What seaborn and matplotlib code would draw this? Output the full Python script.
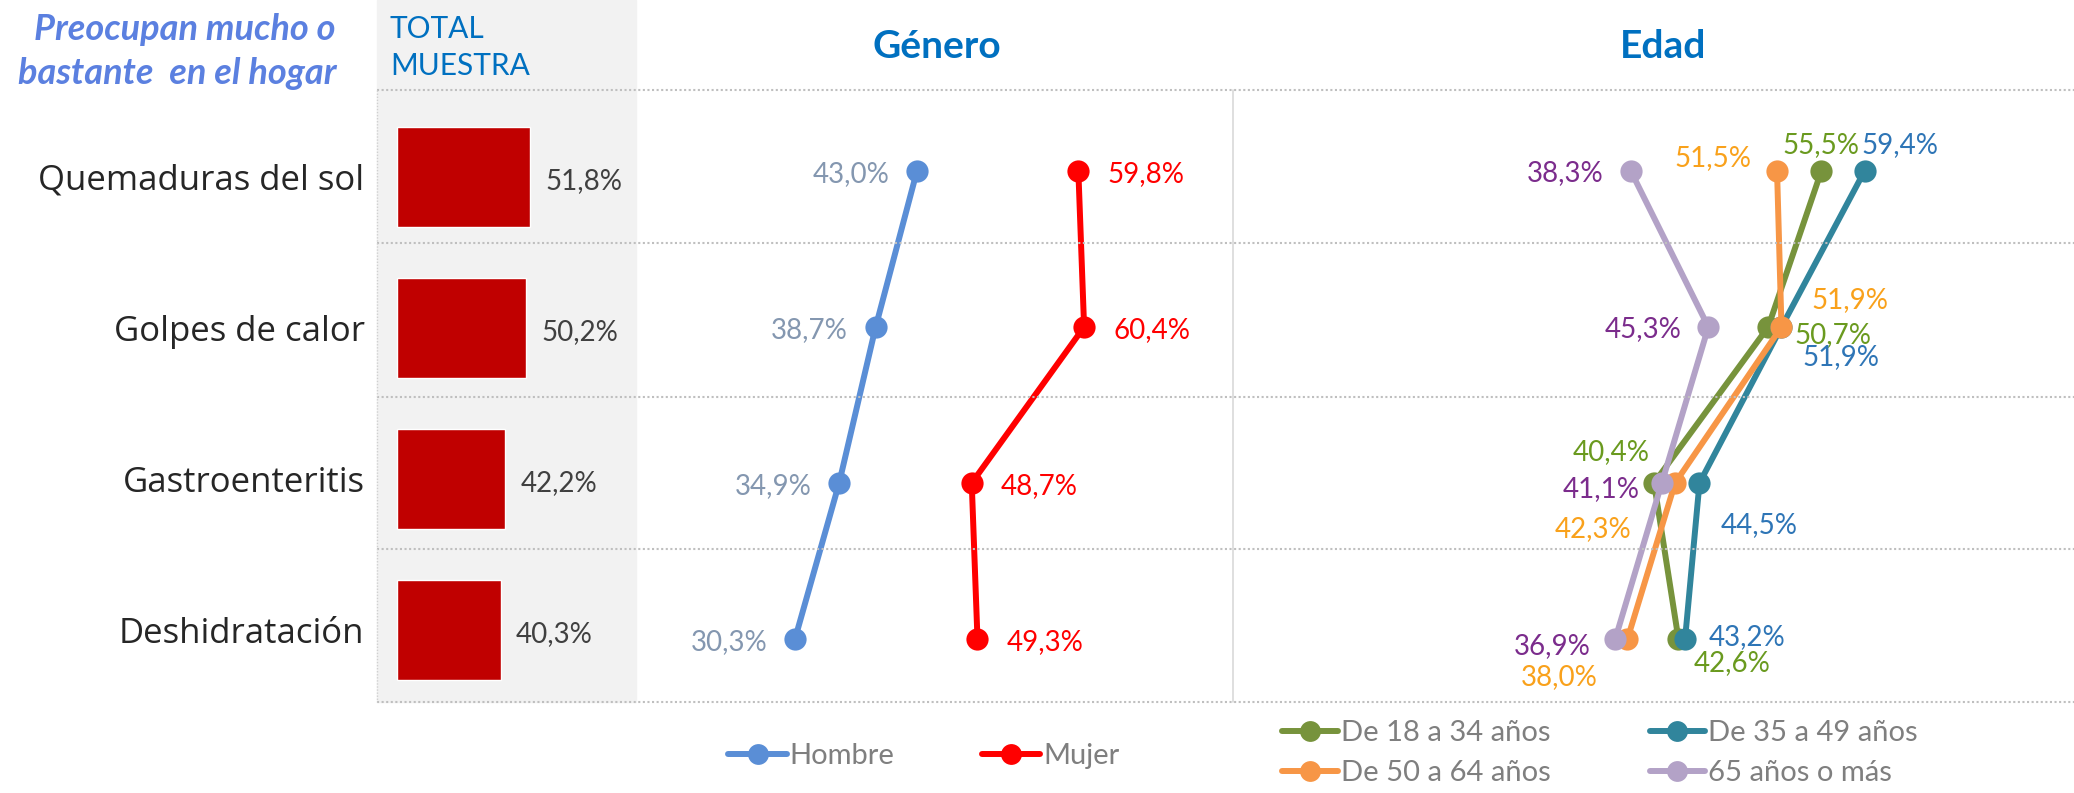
import matplotlib.pyplot as plt
from matplotlib.lines import Line2D
from matplotlib.patches import Rectangle
import seaborn as sns

# Datos (porcentajes que se preocupan mucho o bastante)
categorias = ["Quemaduras del sol", "Golpes de calor", "Gastroenteritis", "Deshidratación"]
total_muestra = [51.8, 50.2, 42.2, 40.3]
hombre = [43.0, 38.7, 34.9, 30.3]
mujer = [59.8, 60.4, 48.7, 49.3]
edad_18_34 = [55.5, 50.7, 40.4, 42.6]
edad_35_49 = [59.4, 51.9, 44.5, 43.2]
edad_50_64 = [51.5, 51.9, 42.3, 38.0]
edad_65_mas = [38.3, 45.3, 41.1, 36.9]

genero_series = ["Hombre", "Mujer"]
edad_series = ["De 18 a 34 años", "De 35 a 49 años", "De 50 a 64 años", "65 años o más"]

sns.set_style("white")
plt.rcParams["font.family"] = ["Lato", "DejaVu Sans"]

W, H = 2074, 793
fig = plt.figure(figsize=(W / 100, H / 100), dpi=100)


def rect(x0, y0, x1, y1):
    return [x0 / W, 1 - y1 / H, (x1 - x0) / W, (y1 - y0) / H]


def fmt(v):
    return f"{v:.1f}%".replace(".", ",")


# fondo gris de la columna TOTAL MUESTRA
fig.patches.append(Rectangle((377 / W, 1 - 702 / H), (636 - 377) / W, 702 / H,
                             transform=fig.transFigure, color="#f2f2f2", zorder=-5))

# ---- barras total muestra
ax_bar = fig.add_axes(rect(377, 90, 636, 702))
ax_bar.set_facecolor("none")
sns.barplot(x=total_muestra, y=categorias, ax=ax_bar, color="#c00000",
            orient="h", width=0.66, saturation=1)
ax_bar.set_xlim(-7.8, 93)
ax_bar.set_ylim(3.477, -0.576)
for i, v in enumerate(total_muestra):
    ax_bar.annotate(fmt(v), (v, i), xytext=(11, -3), textcoords="offset points",
                    ha="left", va="center", fontsize=20, color="#404040")
ax_bar.set_xticks([])
ax_bar.tick_params(axis="y", length=0, pad=9, labelsize=25)
for t in ax_bar.get_yticklabels():
    t.set_fontfamily(["Open Sans", "DejaVu Sans"])
ax_bar.set_xlabel("")
ax_bar.set_ylabel("")
sns.despine(ax=ax_bar, left=True, bottom=True)

rows = list(range(len(categorias)))
ylim_lines = (3.404, -0.519)

# ---- Género
ax_gen = fig.add_axes(rect(636, 90, 1233, 702))
ax_gen.set_facecolor("none")
gen_colors = {"Hombre": "#5a8ed6", "Mujer": "#ff0000"}
gen_label_colors = {"Hombre": "#8497b0", "Mujer": "#ff0000"}
for name, vals in zip(genero_series, [hombre, mujer]):
    sns.lineplot(x=vals, y=rows, ax=ax_gen, sort=False, estimator=None,
                 color=gen_colors[name], lw=4.3, marker="o", markersize=16,
                 markeredgewidth=0)
    for i, v in enumerate(vals):
        if name == "Hombre":
            off, ha = (-20, -2), "right"
        else:
            off, ha = (21, -2), "left"
        ax_gen.annotate(fmt(v), (v, i), xytext=off, textcoords="offset points",
                        ha=ha, va="center", fontsize=20, color=gen_label_colors[name])
ax_gen.set_xlim(13.75, 75.9)
ax_gen.set_ylim(*ylim_lines)
ax_gen.axis("off")

# ---- Edad
ax_edad = fig.add_axes(rect(1233, 90, 2074, 702))
ax_edad.set_facecolor("none")
edad_colors = ["#77933c", "#31859c", "#f79646", "#b3a2c7"]
edad_label_colors = ["#6a9a1f", "#2e75b6", "#f9a11b", "#7b2c8c"]
# desplazamientos de etiqueta (px: dx, dy hacia abajo, alineación)
edad_offsets = [
    [(0, -28, "center"), (26, 6, "left"), (-43, -33, "center"), (15, 22, "left")],
    [(-3, -28, "left"), (21, 28, "left"), (21, 40, "left"), (24, -4, "left")],
    [(-26, -15, "right"), (30, -29, "left"), (-44, 44, "right"), (-30, 36, "right")],
    [(-27, 0, "right"), (-27, 0, "right"), (-22, 4, "right"), (-25, 5, "right")],
]
edad_vals = [edad_18_34, edad_35_49, edad_50_64, edad_65_mas]
for k, vals in enumerate(edad_vals):
    sns.lineplot(x=vals, y=rows, ax=ax_edad, sort=False, estimator=None,
                 color=edad_colors[k], lw=4.3, marker="o", markersize=16,
                 markeredgewidth=0)
for k, vals in enumerate(edad_vals):
    for i, v in enumerate(vals):
        dx, dy, ha = edad_offsets[k][i]
        ax_edad.annotate(fmt(v), (v, i), xytext=(dx * 0.72, -dy * 0.72 - 1.5),
                         textcoords="offset points", ha=ha, va="center",
                         fontsize=20, color=edad_label_colors[k])
ax_edad.set_xlim(2.4, 78.3)
ax_edad.set_ylim(*ylim_lines)
ax_edad.axis("off")

# líneas punteadas entre filas
for y in [90, 243, 397, 549, 702]:
    fig.add_artist(Line2D([377 / W, 1], [1 - y / H] * 2, transform=fig.transFigure,
                          color="#bfbfbf", lw=1.5, linestyle=(0, (1, 1.2))))
fig.add_artist(Line2D([377 / W] * 2, [1 - 90 / H, 1 - 702 / H], transform=fig.transFigure,
                      color="#d0d0d0", lw=1, linestyle=(0, (1, 1.2))))
fig.add_artist(Line2D([1233 / W] * 2, [1 - 90 / H, 1 - 702 / H], transform=fig.transFigure,
                      color="#d9d9d9", lw=1.2))

# textos de cabecera
fig.text(336 / W, 1 - 29 / H, "Preocupan mucho o", ha="right", va="center",
         fontsize=26, fontweight="bold", fontstyle="italic", color="#5b80e0")
fig.text(336 / W, 1 - 73 / H, "bastante  en el hogar", ha="right", va="center",
         fontsize=26, fontweight="bold", fontstyle="italic", color="#5b80e0")
fig.text(390 / W, 1 - 29 / H, "TOTAL", ha="left", va="center", fontsize=21.5, color="#0070c0")
fig.text(390 / W, 1 - 66 / H, "MUESTRA", ha="left", va="center", fontsize=21.5, color="#0070c0")
fig.text(937 / W, 1 - 46 / H, "Género", ha="center", va="center", fontsize=28,
         fontweight="bold", color="#0070c0")
fig.text(1663 / W, 1 - 46 / H, "Edad", ha="center", va="center", fontsize=28,
         fontweight="bold", color="#0070c0")


# leyendas
def handle(c):
    return Line2D([], [], color=c, lw=4.3, marker="o", markersize=15, markeredgewidth=0)


fig.legend([handle(gen_colors[n]) for n in genero_series], genero_series,
           loc="center", bbox_to_anchor=(924 / W, 1 - 756 / H), ncol=2, frameon=False,
           fontsize=21, labelcolor="#7f7f7f", handlelength=2.0, handletextpad=0.1,
           columnspacing=3.0)
order = [0, 2, 1, 3]
fig.legend([handle(edad_colors[i]) for i in order], [edad_series[i] for i in order],
           loc="center", bbox_to_anchor=(1600 / W, 1 - 753 / H), ncol=2, frameon=False,
           fontsize=21, labelcolor="#7f7f7f", handlelength=1.9, handletextpad=0.1,
           columnspacing=3.4, labelspacing=0.5)

fig.savefig("out.png", dpi=100)
